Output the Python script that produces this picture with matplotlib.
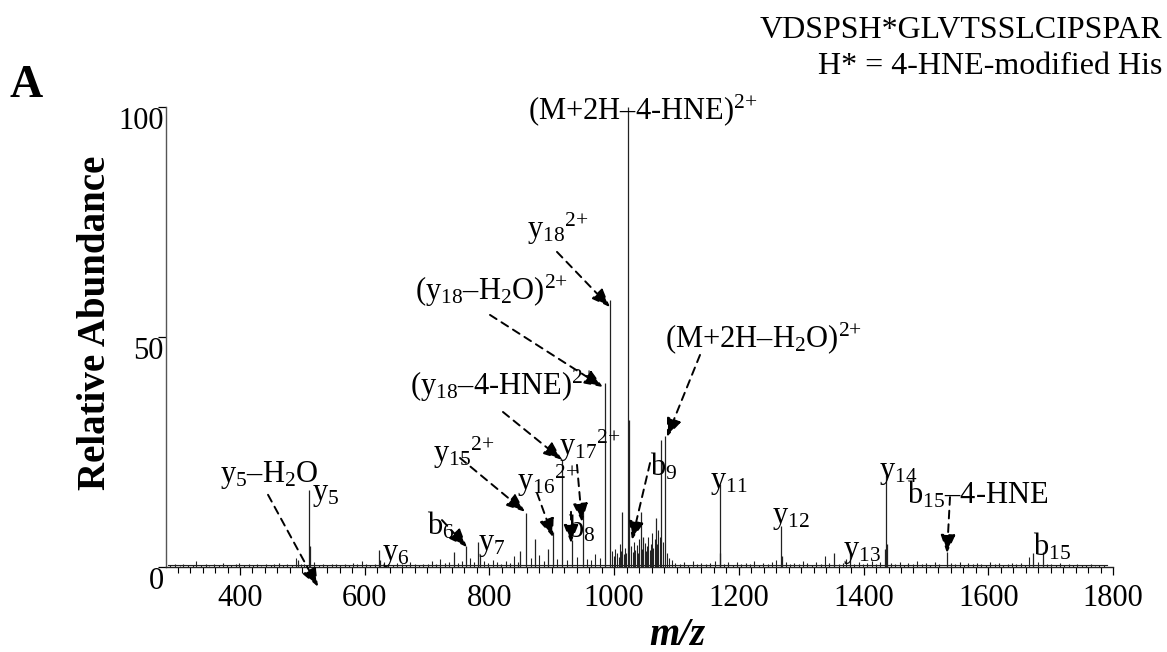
import matplotlib
matplotlib.use("Agg")
import matplotlib.pyplot as plt
from matplotlib.transforms import ScaledTranslation
from matplotlib.ticker import MultipleLocator

plt.rcParams['font.family'] = ['Liberation Serif', 'DejaVu Serif']
plt.rcParams['mathtext.fontset'] = 'custom'
plt.rcParams['mathtext.rm'] = 'Liberation Serif'
plt.rcParams['mathtext.it'] = 'Liberation Serif:italic'
plt.rcParams['mathtext.bf'] = 'Liberation Serif:bold'
plt.rcParams['mathtext.default'] = 'regular'

# ---- data: labelled / major peaks (m/z, relative abundance) ----
peak_mz = [493.5, 511, 513, 623, 625, 743, 762, 782, 785, 849, 858.6, 873, 894,
           902, 917, 932, 950.5, 985, 993.3, 1013, 1022.7, 1024, 1042.6, 1046.6,
           1066.8, 1075.4, 1081, 1169, 1170.5, 1267, 1268.5, 1353, 1378, 1434,
           1436, 1437.5, 1533, 1671, 1687]
peak_ab = [1.5, 16.7, 4.5, 3.7, 1.5, 3.3, 4.6, 5.5, 2.5, 3.5, 11.8, 6, 4,
           7.7, 23.3, 5.9, 12.4, 40, 58, 12, 100, 32, 12, 6.6,
           10.6, 27.6, 28.5, 18, 3, 9, 2.5, 3, 3, 4,
           20, 5, 3.3, 3, 3.3]

# ---- data: baseline noise peaks ----
noise_mz = [288, 296, 303, 309, 317, 324, 330, 338, 345, 351, 358, 366, 372, 379,
            386, 393, 399, 406, 414, 421, 428, 434, 441, 449, 455, 462, 469, 476,
            483, 490, 497, 503, 519, 526, 533, 540, 547, 554, 561, 568, 575, 581,
            588, 595, 602, 609, 616, 631, 638, 645, 652, 659, 666, 673, 680, 687,
            694, 701, 708, 714, 721, 728, 735, 749, 756, 769, 775, 791, 798, 805,
            812, 819, 826, 833, 840, 845, 866, 880, 887, 908, 924, 940, 957, 963,
            970, 977,
            996, 999, 1002, 1004, 1007, 1009, 1011, 1015, 1017, 1019, 1027, 1030,
            1032, 1034, 1036, 1038, 1040, 1044, 1049, 1051, 1053, 1055, 1057, 1059,
            1061, 1063, 1065, 1069, 1071, 1073, 1078, 1085, 1088, 1092,
            1098, 1105, 1112, 1119, 1126, 1133, 1140, 1147, 1154, 1161, 1176, 1183,
            1190, 1197, 1204, 1211, 1218, 1225, 1232, 1239, 1246, 1253, 1260, 1275,
            1282, 1289, 1296, 1303, 1310, 1317, 1324, 1331, 1338, 1345, 1360, 1367,
            1372, 1385, 1392, 1399, 1406, 1413, 1420, 1427, 1444, 1451, 1458, 1465,
            1472, 1479, 1486, 1493, 1500, 1507, 1514, 1521, 1540, 1547, 1554, 1561,
            1568, 1575, 1582, 1589, 1596, 1603, 1610, 1617, 1624, 1631, 1638, 1645,
            1652, 1659, 1665, 1680, 1694, 1701, 1708, 1715, 1722, 1729, 1736, 1743,
            1750, 1757, 1764, 1771, 1778, 1785]
noise_ab = [0.4, 0.6, 0.3, 0.7, 0.5, 0.4, 1.2, 0.5, 0.6, 0.3, 0.6, 0.4, 0.8, 0.5,
            0.4, 0.6, 0.9, 0.4, 0.6, 0.5, 0.7, 0.3, 0.6, 0.5, 0.6, 0.8, 0.4, 0.6,
            0.5, 2.0, 0.7, 0.6, 1.0, 0.5, 0.6, 0.4, 0.7, 0.6, 0.4, 0.6, 0.5, 0.8,
            0.6, 1.2, 0.6, 0.5, 0.7, 1.0, 0.6, 0.5, 0.8, 0.6, 0.4, 1.0, 0.6, 0.5,
            0.7, 0.6, 1.4, 0.6, 1.8, 0.8, 1.0, 0.8, 1.2, 2.0, 1.0, 1.3, 0.8, 1.5,
            1.0, 0.7, 1.2, 0.9, 2.4, 1.0, 2.0, 2.6, 1.4, 1.8, 1.6, 2.2, 1.8, 1.5,
            2.8, 2.0,
            3.5, 2.5, 4.0, 3.0, 2.2, 5.0, 3.5, 2.8, 4.2, 3.0, 4.5, 3.2,
            5.5, 3.8, 4.8, 3.0, 6.0, 4.0, 5.2, 3.5, 4.5, 6.5, 3.8, 5.0,
            7.5, 4.2, 6.0, 5.0, 8.0, 6.5, 5.5, 3.0, 2.0, 1.5,
            0.8, 0.6, 1.0, 0.5, 1.2, 0.7, 0.9, 0.6, 0.8, 1.4, 0.7, 1.0,
            0.5, 1.1, 0.6, 0.8, 0.7, 1.3, 0.5, 0.9, 0.6, 1.0, 1.5, 1.1,
            0.7, 0.9, 0.6, 1.2, 0.8, 0.5, 1.0, 0.7, 2.4, 0.9, 0.6, 0.8,
            1.8, 0.7, 1.0, 0.6, 0.9, 1.3, 0.7, 1.1, 0.8, 0.6, 1.0, 0.5,
            0.9, 0.7, 1.2, 0.6, 0.8, 0.5, 1.0, 0.7, 0.9, 0.6, 1.1, 0.5,
            0.8, 0.6, 0.9, 0.7, 0.5, 1.0, 0.6, 0.8, 0.5, 0.7, 0.9, 0.6,
            0.8, 0.5, 2.2, 1.1, 0.7, 0.6, 0.4, 0.8, 0.5, 0.6, 0.4, 0.7,
            0.5, 0.4, 0.6, 0.3, 0.5, 0.4]

# flat baseline trace of the spectrum
baseline_mz = [285, 1790]
baseline_ab = [0.35, 0.35]

xticks = [400, 600, 800, 1000, 1200, 1400, 1600, 1800]
yticks = [0, 50, 100]

# annotations: (text, text anchor (m/z, abundance))
labels = [
    (r'(M+2H–4-HNE)$^{2{+}}$', 861.8, 97.4),
    (r'y$_{18}$$^{2{+}}$', 860.2, 71.5),
    (r'(y$_{18}$–H$_2$O)$^{2{+}}$', 680.6, 58.0),
    (r'(y$_{18}$–4-HNE)$^{2{+}}$', 672.6, 37.4),
    (r'y$_{17}$$^{2{+}}$', 911.5, 24.3),
    (r'b$_8$', 926.0, 6.5),
    (r'y$_{16}$$^{2{+}}$', 844.2, 16.7),
    (r'y$_{15}$$^{2{+}}$', 709.5, 22.8),
    (r'y$_5$–H$_2$O', 368.0, 18.5),
    (r'y$_5$', 515.5, 14.6),
    (r'b$_6$', 699.9, 7.0),
    (r'y$_7$', 781.7, 3.7),
    (r'y$_6$', 627.7, 1.5),
    (r'(M+2H–H$_2$O)$^{2{+}}$', 1081.5, 47.8),
    (r'b$_9$', 1057.5, 20.0),
    (r'y$_{11}$', 1153.7, 17.2),
    (r'y$_{12}$', 1253.0, 9.6),
    (r'y$_{13}$', 1367.0, 2.2),
    (r'y$_{14}$', 1424.7, 19.3),
    (r'b$_{15}$–4-HNE', 1469.6, 13.9),
    (r'b$_{15}$', 1671.6, 2.6),
]
# dashed arrows: (start m/z, start abundance, tip m/z, tip abundance)
arrows = [
    (908.3, 68.5, 993.3, 56.5),
    (800.9, 54.8, 982.1, 39.1),
    (821.7, 33.7, 916.4, 23.3),
    (940.4, 22.2, 948.4, 9.8),
    (930.8, 12.0, 930.8, 5.2),
    (876.3, 16.1, 901.9, 6.5),
    (752.8, 23.7, 857.0, 12.0),
    (444.9, 15.7, 525.1, -4.3),
    (723.9, 10.2, 764.0, 4.3),
    (1137.7, 46.1, 1084.7, 28.3),
    (1057.5, 22.6, 1028.6, 5.9),
    (1538.6, 15.2, 1533.8, 3.0),
]

W, H = 1167, 652
fig = plt.figure(figsize=(W / 100, H / 100), dpi=100)
ax = fig.add_axes([166 / W, 1 - 567 / H, (1113 - 166) / W, (567 - 107) / H])

ax.plot(baseline_mz, baseline_ab, color='#222222', lw=0.8)
ax.vlines(noise_mz, 0, noise_ab, color='#222222', lw=0.8)
ax.vlines(peak_mz, 0, peak_ab, color='#222222', lw=0.9)

ax.set_xlim(281.3, 1800)
ax.set_ylim(0, 100)
for s in ['top', 'right']:
    ax.spines[s].set_visible(False)
ax.spines['left'].set_color('#555555')
ax.spines['bottom'].set_color('#222222')
ax.spines['left'].set_linewidth(1.0)
ax.spines['bottom'].set_linewidth(1.0)

ax.set_xticks(xticks)
ax.set_xticklabels([str(v) for v in xticks])
ax.xaxis.set_minor_locator(MultipleLocator(20))
ax.set_yticks(yticks)
ax.set_yticklabels([str(v) for v in yticks])
ax.tick_params(axis='x', which='major', length=6, width=0.9, labelsize=22, pad=6, direction='out')
ax.tick_params(axis='x', which='minor', length=4, width=0.8, direction='out')
ax.tick_params(axis='y', which='major', length=6, width=0.9, labelsize=22, pad=-4.3, direction='out')
for lab in ax.get_yticklabels():
    lab.set_transform(lab.get_transform() + ScaledTranslation(0, -11 / 100, fig.dpi_scale_trans))

ax.set_xlabel('m/z', fontsize=28, fontweight='bold', fontstyle='italic')
ax.xaxis.set_label_coords((677 - 166) / (1113 - 166), -(645 - 567) / (567 - 107))
ax.xaxis.label.set_va('baseline')
fig.text(96 / W, 1 - 323 / H, 'Relative Abundance', rotation=90, fontsize=28,
         fontweight='bold', ha='center', va='center')
fig.text(10 / W, 1 - 97 / H, 'A', fontsize=33, fontweight='bold', ha='left', va='baseline')
fig.text(1162 / W, 1 - 38 / H, 'VDSPSH*GLVTSSLCIPSPAR', fontsize=23, ha='right', va='baseline')
fig.text(1162 / W, 1 - 74 / H, 'H* = 4-HNE-modified His', fontsize=23, ha='right', va='baseline')

for txt, mx, ab in labels:
    ax.text(mx, ab, txt, fontsize=22, ha='left', va='baseline', clip_on=False)

for x0, y0, x1, y1 in arrows:
    ax.annotate('', xy=(x1, y1), xytext=(x0, y0), annotation_clip=False,
                arrowprops=dict(arrowstyle='-|>,head_length=0.8,head_width=0.32',
                                mutation_scale=14, lw=1.4, ls=(0, (4, 3)),
                                color='black', shrinkA=0, shrinkB=0))

fig.savefig('out.png', dpi=100)
